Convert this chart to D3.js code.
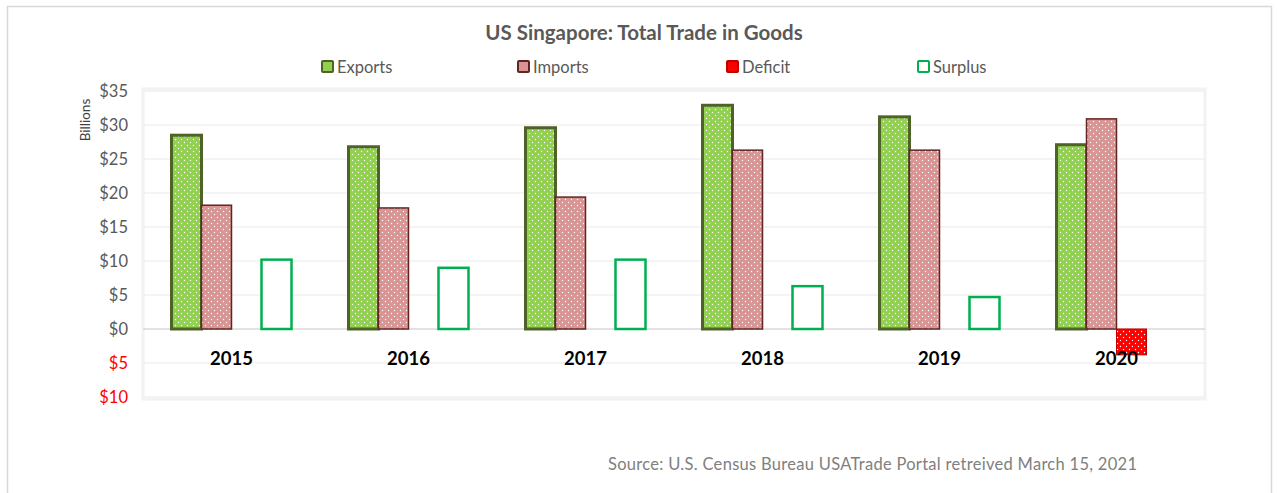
<!DOCTYPE html>
<html>
<head>
<meta charset="utf-8">
<script src="https://cdn.jsdelivr.net/npm/d3@7"></script>
<style>
  body { margin: 0; background: #fff; }
  svg { display: block; font-family: Lato, "Open Sans", sans-serif; }
</style>
</head>
<body>
<svg id="chart" width="1279" height="493"></svg>
<script>
var years = ["2015", "2016", "2017", "2018", "2019", "2020"];
var seriesNames = ["Exports", "Imports", "Deficit", "Surplus"];
var exportsVals = [28.5, 26.8, 29.6, 32.9, 31.2, 27.1];
var importsVals = [18.2, 17.8, 19.4, 26.3, 26.3, 30.9];
var deficitVals = [0, 0, 0, 0, 0, -3.8];
var surplusVals = [10.2, 9.0, 10.2, 6.3, 4.7, 0];
var yTicks = [-10, -5, 0, 5, 10, 15, 20, 25, 30, 35];

var svg = d3.select("#chart");

// outer chart border
svg.append("rect")
  .attr("x", 7.5).attr("y", 6.5)
  .attr("width", 1264).attr("height", 500)
  .attr("fill", "none").attr("stroke", "#d9d9d9").attr("stroke-width", 1.5);

// white dot pattern for filled bars
var defs = svg.append("defs");
function dotPattern(id, color) {
  var p = defs.append("pattern")
    .attr("id", id)
    .attr("patternUnits", "userSpaceOnUse")
    .attr("width", 6).attr("height", 6);
  p.append("rect").attr("width", 6).attr("height", 6).attr("fill", color);
  p.append("circle").attr("cx", 1.5).attr("cy", 1.5).attr("r", 0.7).attr("fill", "#fff");
  p.append("circle").attr("cx", 4.5).attr("cy", 4.5).attr("r", 0.7).attr("fill", "#fff");
}
dotPattern("dotsGreen", "#92d050");
dotPattern("dotsPink", "#d99594");
dotPattern("dotsRed", "#ff0000");

var styles = {
  Exports: { fill: "url(#dotsGreen)", stroke: "#4f6228", sw: 3 },
  Imports: { fill: "url(#dotsPink)", stroke: "#632523", sw: 1.5 },
  Deficit: { fill: "url(#dotsRed)", stroke: "#c00000", sw: 1 },
  Surplus: { fill: "#fff", stroke: "#00b050", sw: 2.5 }
};
var legendColors = {
  Exports: { fill: "#92d050", stroke: "#4f6228" },
  Imports: { fill: "#d99594", stroke: "#632523" },
  Deficit: { fill: "#ff0000", stroke: "#c00000" },
  Surplus: { fill: "#fff", stroke: "#00b050" }
};

var x = d3.scaleBand()
  .domain(years)
  .range([143, 1205])
  .paddingInner(0.322)
  .paddingOuter(0.161);

var xs = d3.scaleBand()
  .domain(seriesNames)
  .range([0, x.bandwidth()]);

var y = d3.scaleLinear()
  .domain([-10, 35])
  .range([397, 91]);

// plot area frame
svg.append("rect")
  .attr("x", 143).attr("y", 89)
  .attr("width", 1062).attr("height", 310)
  .attr("fill", "none").attr("stroke", "#f2f2f2").attr("stroke-width", 3);

// gridlines
svg.append("g")
  .selectAll("line")
  .data(yTicks.filter(function(d){ return d !== 0; }))
  .enter()
  .append("line")
  .attr("x1", 143).attr("x2", 1205)
  .attr("y1", function(d){ return y(d); })
  .attr("y2", function(d){ return y(d); })
  .attr("stroke", "#f0f0f0").attr("stroke-width", 1.5);

// y axis labels
var yAxis = d3.axisLeft(y)
  .tickValues(yTicks)
  .tickSize(0)
  .tickPadding(0)
  .tickFormat(function(d){ return "$" + Math.abs(d); });

var yg = svg.append("g")
  .attr("transform", "translate(128,0)")
  .call(yAxis);
yg.select(".domain").remove();
yg.selectAll("text")
  .attr("font-size", 16.5)
  .attr("font-family", "Lato, sans-serif")
  .attr("fill", function(d){ return d < 0 ? "#ff0000" : "#595959"; });

// axis title
svg.append("text")
  .attr("transform", "translate(90,120) rotate(-90)")
  .attr("text-anchor", "middle")
  .attr("font-size", 13.5)
  .attr("fill", "#404040")
  .text("Billions");

// bars
var rows = years.map(function(yr, i){
  return [
    { year: yr, key: "Exports", v: exportsVals[i] },
    { year: yr, key: "Imports", v: importsVals[i] },
    { year: yr, key: "Deficit", v: deficitVals[i] },
    { year: yr, key: "Surplus", v: surplusVals[i] }
  ];
});
var allBars = [].concat.apply([], rows).filter(function(d){ return d.v !== 0; });

// zero line
svg.append("line")
  .attr("x1", 143).attr("x2", 1205)
  .attr("y1", y(0)).attr("y2", y(0))
  .attr("stroke", "#d9d9d9").attr("stroke-width", 1.5);

svg.append("g")
  .selectAll("rect")
  .data(allBars)
  .enter()
  .append("rect")
  .attr("x", function(d){ return x(d.year) + xs(d.key); })
  .attr("width", xs.bandwidth())
  .attr("y", function(d){ return y(Math.max(0, d.v)); })
  .attr("height", function(d){ return Math.abs(y(d.v) - y(0)); })
  .attr("fill", function(d){ return styles[d.key].fill; })
  .attr("stroke", function(d){ return styles[d.key].stroke; })
  .attr("stroke-width", function(d){ return styles[d.key].sw; });

// year labels
svg.append("g")
  .selectAll("text")
  .data(years)
  .enter()
  .append("text")
  .attr("x", function(d){ return x(d) + x.bandwidth() / 2; })
  .attr("y", 365)
  .attr("text-anchor", "middle")
  .attr("font-size", 18.5)
  .attr("font-weight", "bold")
  .attr("fill", "#000")
  .text(function(d){ return d; });

// title
svg.append("text")
  .attr("x", 644).attr("y", 40)
  .attr("text-anchor", "middle")
  .attr("font-size", 20.5)
  .attr("font-weight", "bold")
  .attr("fill", "#595959")
  .text("US Singapore: Total Trade in Goods");

// legend
var legendX = [322, 518, 727, 918];
var lg = svg.append("g")
  .selectAll("g")
  .data(seriesNames)
  .enter()
  .append("g")
  .attr("transform", function(d, i){ return "translate(" + legendX[i] + ",61)"; });
lg.append("rect")
  .attr("width", 11).attr("height", 11)
  .attr("rx", 1)
  .attr("fill", function(d){ return legendColors[d].fill; })
  .attr("stroke", function(d){ return legendColors[d].stroke; })
  .attr("stroke-width", 2);
lg.append("text")
  .attr("x", 15).attr("y", 12)
  .attr("font-size", 16.5)
  .attr("fill", "#595959")
  .text(function(d){ return d; });

// source
svg.append("text")
  .attr("x", 608).attr("y", 470)
  .attr("font-size", 16.5)
  .attr("textLength", 529)
  .attr("lengthAdjust", "spacing")
  .attr("fill", "#808080")
  .text("Source: U.S. Census Bureau USATrade Portal retreived  March 15, 2021");
</script>
</body>
</html>
